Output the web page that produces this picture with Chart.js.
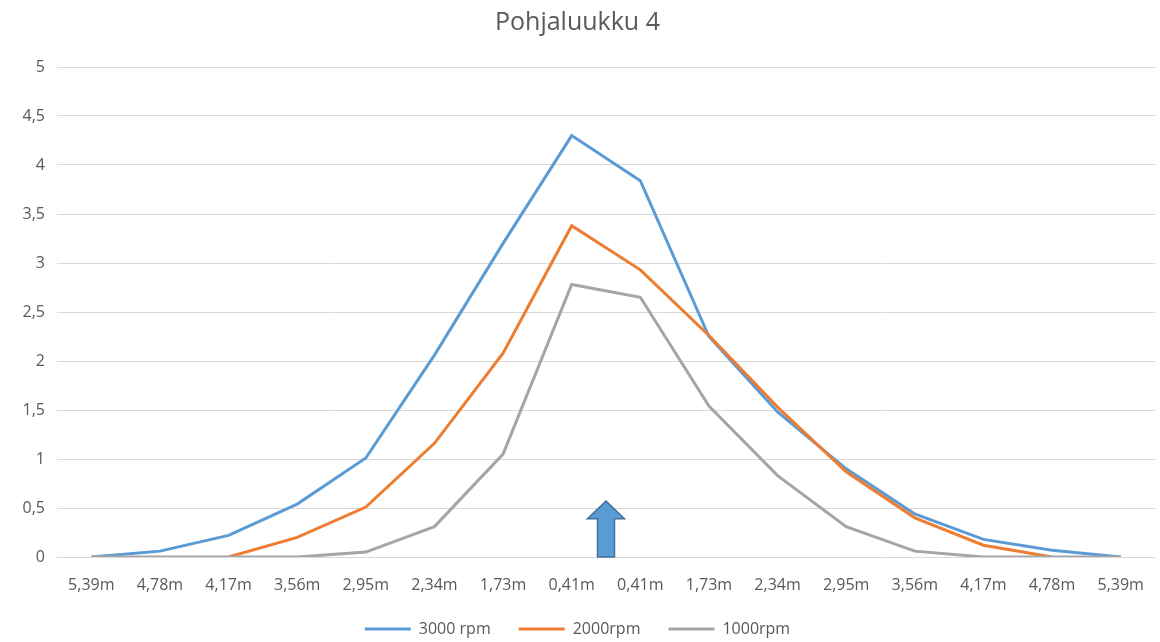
<!DOCTYPE html>
<html>
<head>
<meta charset="utf-8">
<script src="https://cdn.jsdelivr.net/npm/chart.js@4"></script>
<style>
  html, body { margin: 0; padding: 0; background: #ffffff; }
  #wrap { width: 1160px; height: 642px; position: relative; }
</style>
</head>
<body>
<div id="wrap"><canvas id="c"></canvas></div>
<script>
const chartTitle = 'Pohjaluukku 4';
const categories = ['5,39m','4,78m','4,17m','3,56m','2,95m','2,34m','1,73m','0,41m',
                    '0,41m','1,73m','2,34m','2,95m','3,56m','4,17m','4,78m','5,39m'];
const seriesNames = ['3000 rpm', '2000rpm', '1000rpm'];
const rpm3000 = [0, 0.06, 0.22, 0.54, 1.01, 2.06, 3.2, 4.3, 3.84, 2.25, 1.48, 0.9, 0.44, 0.18, 0.07, 0];
const rpm2000 = [null, null, 0, 0.2, 0.51, 1.16, 2.08, 3.38, 2.93, 2.26, 1.53, 0.87, 0.4, 0.12, 0, null];
const rpm1000 = [0, 0, 0, 0, 0.05, 0.31, 1.05, 2.78, 2.65, 1.54, 0.83, 0.31, 0.06, 0, 0, 0];
const yTicks = [0, 0.5, 1, 1.5, 2, 2.5, 3, 3.5, 4, 4.5, 5];
// arrow annotation: placed between the two 0,41m categories, in data units
const arrowBetween = [7, 8];
const arrowTip = 0.57;
const arrowHeadBase = 0.39;

const TEXT = '#595959';
const FONT = "'Open Sans', 'Noto Sans', sans-serif";

const arrowPlugin = {
  id: 'arrowMark',
  afterDatasetsDraw(chart) {
    const {ctx, scales: {x, y}} = chart;
    const cx = (x.getPixelForValue(arrowBetween[0]) + x.getPixelForValue(arrowBetween[1])) / 2;
    const yb = y.getPixelForValue(0);
    const yt = y.getPixelForValue(arrowTip);
    const yh = y.getPixelForValue(arrowHeadBase);
    const sw = 8.5, hw = 18.5;
    ctx.save();
    ctx.beginPath();
    ctx.moveTo(cx - sw, yb);
    ctx.lineTo(cx - sw, yh);
    ctx.lineTo(cx - hw, yh);
    ctx.lineTo(cx, yt);
    ctx.lineTo(cx + hw, yh);
    ctx.lineTo(cx + sw, yh);
    ctx.lineTo(cx + sw, yb);
    ctx.closePath();
    ctx.fillStyle = '#5B9BD5';
    ctx.fill();
    ctx.lineWidth = 1.5;
    ctx.strokeStyle = '#41719C';
    ctx.stroke();
    ctx.restore();
  }
};

const colors = ['#5B9BD5', '#ED7D31', '#A5A5A5'];
const values = [rpm3000, rpm2000, rpm1000];

new Chart(document.getElementById('c'), {
  type: 'line',
  data: {
    labels: categories,
    datasets: values.map((v, i) => ({
      label: seriesNames[i],
      data: v,
      borderColor: colors[i],
      backgroundColor: colors[i],
      borderWidth: 3,
      pointRadius: 0,
      pointHoverRadius: 0,
      pointStyle: 'line',
      tension: 0,
      fill: false,
      spanGaps: false,
      order: 3 - i
    }))
  },
  options: {
    responsive: true,
    maintainAspectRatio: false,
    animation: false,
    layout: { padding: { left: 0, right: 5, top: 0, bottom: 0 } },
    plugins: {
      title: {
        display: true,
        text: chartTitle,
        color: TEXT,
        font: { family: FONT, size: 25, weight: 'normal' },
        padding: { top: 8, bottom: 29 }
      },
      legend: {
        position: 'bottom',
        maxHeight: 49,
        labels: {
          usePointStyle: true,
          pointStyleWidth: 46,
          boxHeight: 3,
          padding: 28,
          color: TEXT,
          font: { family: FONT, size: 16 },
          sort: (a, b) => a.datasetIndex - b.datasetIndex
        }
      },
      tooltip: { enabled: false }
    },
    scales: {
      x: {
        offset: true,
        grid: { display: false },
        border: { display: false },
        ticks: {
          color: TEXT,
          font: { family: FONT, size: 16 },
          autoSkip: false,
          maxRotation: 0,
          padding: 11
        },
        afterFit(scale) { scale.height = 36; }
      },
      y: {
        min: 0,
        max: 5,
        border: { display: false },
        grid: { color: '#D9D9D9', lineWidth: 1, drawTicks: false },
        afterBuildTicks(scale) { scale.ticks = yTicks.map(v => ({ value: v })); },
        ticks: {
          color: TEXT,
          font: { family: FONT, size: 16 },
          padding: 12,
          callback: (v) => String(v).replace('.', ',')
        },
        afterFit(scale) { scale.width = 57; }
      }
    }
  },
  plugins: [arrowPlugin]
});
</script>
</body>
</html>
